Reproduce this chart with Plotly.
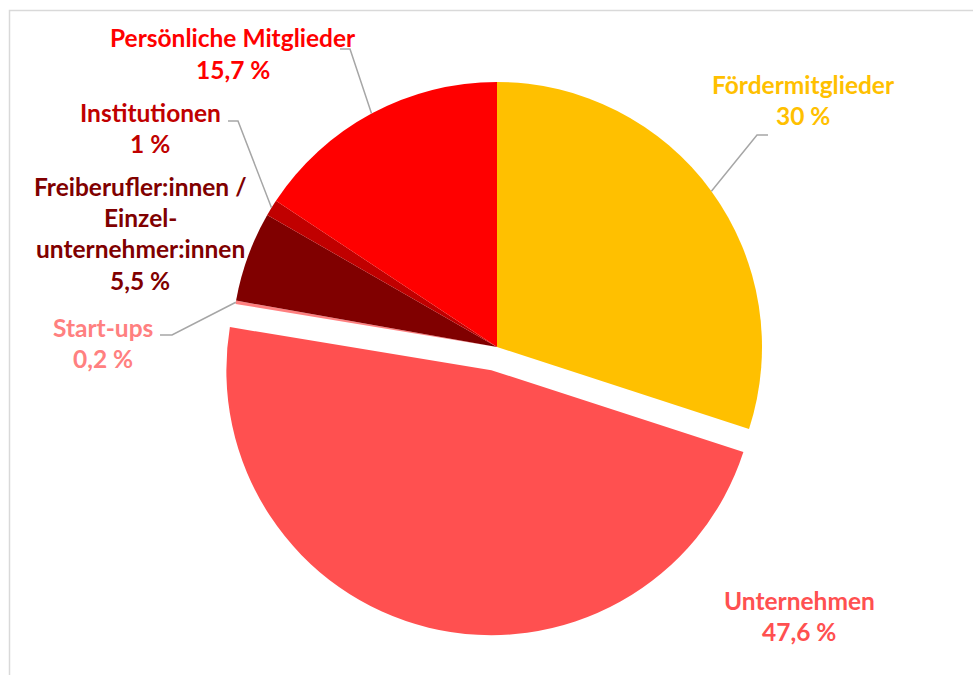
import math
import plotly.graph_objects as go

# ---- data ----
categories = ["Fördermitglieder", "Unternehmen", "Start-ups",
              "Freiberufler:innen / Einzel-unternehmer:innen",
              "Institutionen", "Persönliche Mitglieder"]
values = [30, 47.6, 0.2, 5.5, 1, 15.7]
value_labels = ["30 %", "47,6 %", "0,2 %", "5,5 %", "1 %", "15,7 %"]
label_lines = [["Fördermitglieder"], ["Unternehmen"], ["Start-ups"],
               ["Freiberufler:innen /", "Einzel-", "unternehmer:innen"],
               ["Institutionen"], ["Persönliche Mitglieder"]]
slice_colors = ["#FFC000", "#FF5050", "#FF8080", "#800000", "#C00000", "#FF0000"]
label_colors = ["#FFC000", "#FF5050", "#FF8080", "#800000", "#C00000", "#FF0000"]
pulls = [0, 0.09, 0, 0, 0, 0]

# ---- layout constants (pixels) ----
W, H = 973, 675
CX, CY, R = 497, 347, 265
MAXPULL = max(pulls)
HALF = R * (1 + MAXPULL)
# label block centers (x, first line y) and leader-line elbows
label_pos = [(803, 84), (799, 600), (103, 327), (140, 186), (150, 112), (233, 38)]
leader = {0: [(768, 135), (757, 135)],
          2: [(160, 335), (172, 335)],
          4: [(228, 121), (238, 121)],
          5: [(340, 49), (350, 49)]}
LINE_H = 31.5
FONT_SIZE = 24.5

def px(x):
    return x / W

def py(y):
    return 1 - y / H

fig = go.Figure(go.Pie(
    labels=categories, values=values, sort=False, direction="clockwise",
    rotation=0, pull=pulls, textinfo="none", hoverinfo="skip",
    marker=dict(colors=slice_colors, line=dict(width=0)),
    showlegend=False,
    domain=dict(x=[px(CX - HALF), px(CX + HALF)],
                y=[py(CY + HALF), py(CY - HALF)]),
))

annotations = []
shapes = []
total = sum(values)
cum = 0
for i, v in enumerate(values):
    mid = (cum + v / 2) / total * 2 * math.pi
    cum += v
    lx, ly = label_pos[i]
    lines = label_lines[i] + [value_labels[i]]
    for k, t in enumerate(lines):
        annotations.append(dict(
            x=px(lx), y=py(ly + k * LINE_H), xref="paper", yref="paper",
            text="<b>" + t + "</b>", showarrow=False, xanchor="center", yanchor="middle",
            font=dict(family="Lato, 'Open Sans', sans-serif", size=FONT_SIZE, color=label_colors[i])))
    if i in leader:
        ex = CX + R * math.sin(mid)
        ey = CY - R * math.cos(mid)
        pts = leader[i] + [(ex, ey)]
        path = "M " + " L ".join(f"{px(a)},{py(b)}" for a, b in pts)
        shapes.append(dict(type="path", xref="paper", yref="paper", path=path,
                           line=dict(color="#A6A6A6", width=1.5)))

# outer frame
shapes.append(dict(type="rect", xref="paper", yref="paper",
                   x0=px(9.5), x1=px(990), y0=py(700), y1=py(10.5),
                   line=dict(color="#D9D9D9", width=1.5), fillcolor="rgba(0,0,0,0)", layer="below"))

fig.update_layout(width=W, height=H, margin=dict(l=0, r=0, t=0, b=0),
                  paper_bgcolor="white", plot_bgcolor="white",
                  annotations=annotations, shapes=shapes)

fig.write_html("out.html", config={"displayModeBar": False},
               post_script="document.body.style.margin='0px';document.body.style.padding='0px';")
